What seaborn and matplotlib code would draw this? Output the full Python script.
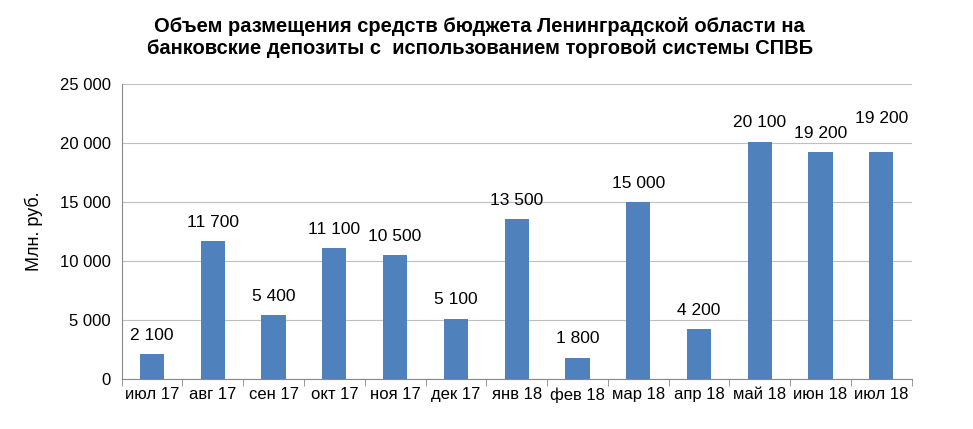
import matplotlib
matplotlib.use("Agg")
import matplotlib.pyplot as plt
import seaborn as sns
import pandas as pd
from matplotlib.ticker import FuncFormatter, FixedLocator

months = ["июл 17","авг 17","сен 17","окт 17","ноя 17","дек 17","янв 18","фев 18","мар 18","апр 18","май 18","июн 18","июл 18"]
values = [2100,11700,5400,11100,10500,5100,13500,1800,15000,4200,20100,19200,19200]
yticks = [0,5000,10000,15000,20000,25000]

plt.rcParams["font.family"] = "Liberation Sans"
df = pd.DataFrame({"m": months, "v": values})
fig = plt.figure(figsize=(9.73,4.29), dpi=100)
ax = fig.add_axes([0.125, 0.117, 0.812, 0.688])
sns.barplot(data=df, x="m", y="v", color="#4F81BD", saturation=1, width=0.4, ax=ax)
fmt = lambda v: f"{int(v):,}".replace(",", " ")
ax.set_ylim(0, 25000)
ax.set_xlim(-0.5, len(months)-0.5)
ax.yaxis.set_major_locator(FixedLocator(yticks))
ax.yaxis.set_major_formatter(FuncFormatter(lambda v, p: fmt(v)))
ax.grid(axis="y", color="#BFBFBF", lw=0.8)
ax.set_axisbelow(True)
for s in ["top","right"]:
    ax.spines[s].set_visible(False)
ax.spines["left"].set_color("#888888")
ax.spines["bottom"].set_color("#888888")
ax.tick_params(axis="y", length=0, labelsize=12, pad=8)
ax.tick_params(axis="x", length=0, labelsize=12, pad=6)
ax.set_xticks(range(len(months)), months)
ax.xaxis.set_minor_locator(FixedLocator([i-0.5 for i in range(len(months)+1)]))
ax.tick_params(axis="x", which="minor", length=5, color="#888888")
ax.set_xlabel("")
ax.set_ylabel("Млн. руб.", fontsize=13, labelpad=12)
for i, v in enumerate(values):
    extra = 1300 if i == len(values)-1 else 0
    ax.annotate(fmt(v), (i, v + extra), xytext=(0, 8), textcoords="offset points",
                ha="center", va="bottom", fontsize=12.5)
fig.suptitle("Объем размещения средств бюджета Ленинградской области на\nбанковские депозиты с  использованием торговой системы СПВБ",
             fontsize=14.5, fontweight="bold", y=0.96, x=0.493)
fig.savefig("out.png", dpi=100)
